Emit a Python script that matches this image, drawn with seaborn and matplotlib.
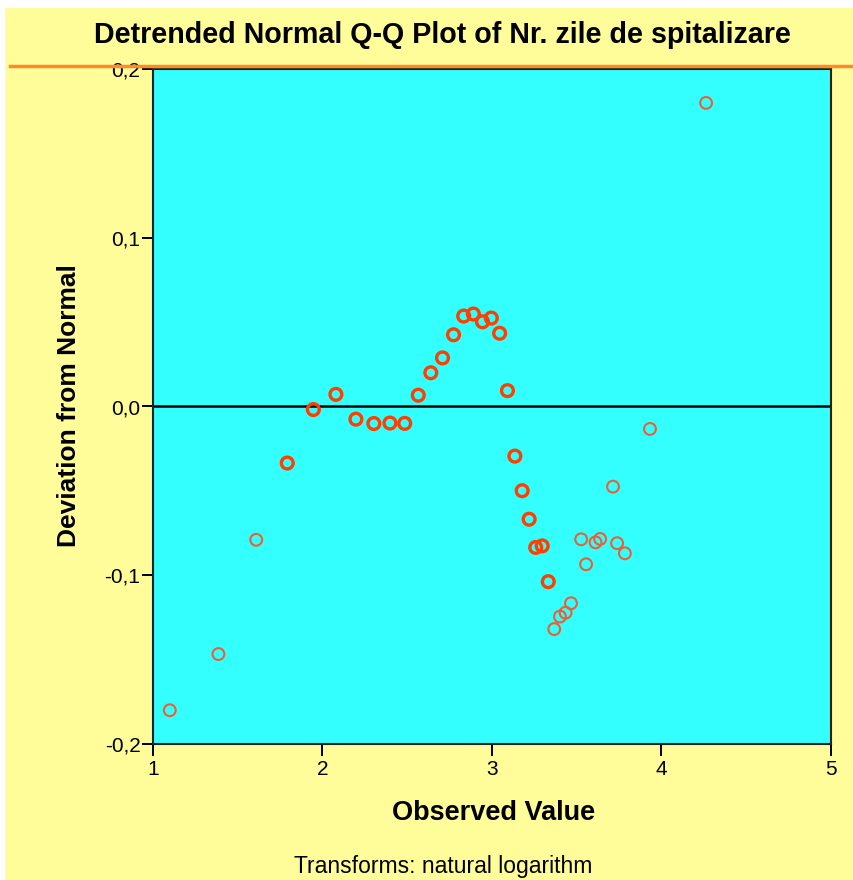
import matplotlib
matplotlib.use("Agg")
import matplotlib.pyplot as plt
import matplotlib.ticker as mticker
from matplotlib.patches import Rectangle
from matplotlib.lines import Line2D
import seaborn as sns
import pandas as pd

# Observed values (natural log of days) and deviations from normal
observed = [1.099, 1.386, 1.609, 1.792, 1.946, 2.079, 2.197, 2.303, 2.398, 2.485,
            2.565, 2.639, 2.708, 2.773, 2.833, 2.890, 2.944, 2.996, 3.045, 3.091,
            3.135, 3.178, 3.219, 3.258, 3.296, 3.332, 3.367, 3.401, 3.434, 3.466,
            3.526, 3.555, 3.611, 3.638, 3.714, 3.738, 3.784, 3.932, 4.263]
deviation = [-0.180, -0.1467, -0.079, -0.0335, -0.0018, 0.0072, -0.0075, -0.0101, -0.0098, -0.0100,
             0.0067, 0.0200, 0.0288, 0.0425, 0.0536, 0.0548, 0.0502, 0.0524, 0.0434, 0.0094,
             -0.0294, -0.0499, -0.0668, -0.0835, -0.0826, -0.1038, -0.1319, -0.1245, -0.1222, -0.1166,
             -0.0787, -0.0935, -0.0805, -0.0785, -0.0475, -0.0810, -0.0870, -0.0133, 0.1799]
# markers drawn over each other (repeated cases) look heavier
heavy = [0, 0, 0, 1, 1, 1, 1, 1, 1, 1,
         1, 1, 1, 1, 1, 1, 1, 1, 1, 1,
         1, 1, 1, 1, 1, 1, 0, 0, 0, 0,
         0, 0, 0, 0, 0, 0, 0, 0, 0]

yticks = [-0.2, -0.1, 0.0, 0.1, 0.2]
xticks = [1, 2, 3, 4, 5]

df = pd.DataFrame({"obs": observed, "dev": deviation, "heavy": heavy})

W, H = 854, 880
fig = plt.figure(figsize=(W / 100, H / 100), dpi=100, facecolor="white")
fig.patches.append(Rectangle((5 / W, 0), 1, 1 - 8 / H, transform=fig.transFigure,
                             facecolor="#FFFC9A", edgecolor="none", zorder=-10))

ax = fig.add_axes([153 / W, 1 - 744 / H, (831 - 153) / W, (744 - 69) / H])
ax.set_facecolor("#33FFFF")

fam = ["Liberation Sans", "DejaVu Sans"]

ax.axhline(0, color="black", lw=1.8, zorder=1)

light = df[df.heavy == 0]
hv = df[df.heavy == 1]
sns.scatterplot(data=light, x="obs", y="dev", ax=ax, marker="o", s=72,
                facecolors="none", edgecolor="#E8603A", linewidth=1.5, zorder=3, legend=False)
sns.scatterplot(data=hv, x="obs", y="dev", ax=ax, marker="o", s=72,
                facecolors="none", edgecolor="#FF3F00", linewidth=2.4, zorder=4, legend=False)

ax.set_xlim(1, 5)
ax.set_ylim(-0.2, 0.2)
ax.set_xticks(xticks)
ax.set_yticks(yticks)
ax.yaxis.set_major_formatter(mticker.FuncFormatter(lambda v, p: f"{v:.1f}".replace(".", ",").replace("-0,0", "0,0")))
ax.xaxis.set_major_formatter(mticker.FuncFormatter(lambda v, p: f"{int(v)}"))
ax.tick_params(axis="both", direction="out", color="black", width=1.4, labelsize=15)
ax.tick_params(axis="x", length=8.5, pad=3)
ax.tick_params(axis="y", length=8, pad=1)
for lab in ax.get_xticklabels() + ax.get_yticklabels():
    lab.set_family(fam)
for sp in ax.spines.values():
    sp.set_color("#222222")
    sp.set_linewidth(1.5)

ax.set_xlabel("")
ax.set_ylabel("")
fig.text(494 / W, 1 - 813 / H, "Observed Value", ha="center", va="center",
         fontsize=19.5, fontweight="bold", family=fam)
fig.text(69 / W, 1 - 406 / H, "Deviation from Normal", ha="center", va="center",
         rotation=90, fontsize=19, fontweight="bold", family=fam)

fig.text(442 / W, 1 - 35 / H, "Detrended Normal Q-Q Plot of Nr. zile de spitalizare",
         ha="center", va="center", fontsize=20.6, fontweight="bold", family=fam)
fig.text(443 / W, 1 - 866 / H, "Transforms: natural logarithm",
         ha="center", va="center", fontsize=16.5, family=fam)
fig.lines.append(Line2D([10 / W, 1], [1 - 66 / H, 1 - 66 / H], transform=fig.transFigure,
                        color="#FF8A2A", lw=2.5))

fig.savefig("out.png", dpi=100, facecolor=fig.get_facecolor())
